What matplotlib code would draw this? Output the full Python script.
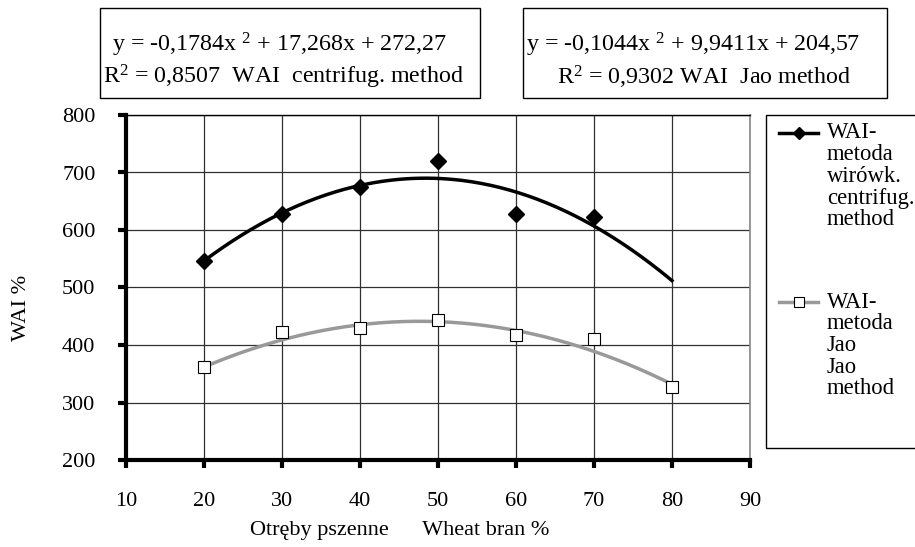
import numpy as np
import matplotlib
matplotlib.use("Agg")
import matplotlib.pyplot as plt
from matplotlib.patches import Rectangle
from matplotlib.lines import Line2D

plt.rcParams['font.family'] = ['Liberation Serif', 'DejaVu Serif']
plt.rcParams['mathtext.fontset'] = 'custom'
plt.rcParams['mathtext.rm'] = 'Liberation Serif'
plt.rcParams['mathtext.it'] = 'Liberation Serif:italic'

# Data
bran = [20, 30, 40, 50, 60, 70, 80]
wai_centrifug = [546, 628, 675, 720, 628, 623, None]
wai_jao = [361, 423, 429, 444, 417, 410, 327]
# Excel polynomial trendline coefficients (a, b, c) as printed on chart
coef_centrifug = [-0.1784, 17.268, 272.27]
coef_jao = [-0.1044, 9.9411, 204.57]
eq1 = ['y = -0,1784x $^{2}$ + 17,268x + 272,27', 'R$^{2}$ = 0,8507  WAI  centrifug. method']
eq2 = ['y = -0,1044x $^{2}$ + 9,9411x + 204,57', 'R$^{2}$ = 0,9302 WAI  Jao method']
legend1 = ['WAI-', 'metoda', 'wirówk.', 'centrifug.', 'method']
legend2 = ['WAI-', 'metoda', 'Jao', 'Jao', 'method']
xticks = [10, 20, 30, 40, 50, 60, 70, 80, 90]
yticks = [200, 300, 400, 500, 600, 700, 800]
xlabel = 'Otręby pszenne      Wheat bran %'
ylabel = 'WAI %'

W, H = 915, 547
FS = 16
fig = plt.figure(figsize=(W / 100, H / 100), dpi=100)
ax = fig.add_axes([126 / W, 1 - 460 / H, (750 - 126) / W, (460 - 115) / H])

ax.set_xlim(10, 90)
ax.set_ylim(200, 800)
ax.set_xticks(xticks)
ax.set_yticks(yticks)
ax.grid(True, color='#303030', linewidth=0.9)
ax.set_axisbelow(True)

xs = np.linspace(20, 80, 200)
for coef, col in [(coef_centrifug, 'black'), (coef_jao, '#999999')]:
    ys = np.polyval(coef, xs)
    ax.plot(xs, ys, color=col, linewidth=2.5, zorder=3)

xc = [x for x, v in zip(bran, wai_centrifug) if v is not None]
yc = [v for v in wai_centrifug if v is not None]
ax.plot(xc, yc, linestyle='none', marker='D', markersize=8.5, color='black', zorder=4)
ax.plot(bran, wai_jao, linestyle='none', marker='s', markersize=9,
        markerfacecolor='white', markeredgecolor='black', markeredgewidth=0.8, zorder=4)

for s in ['left', 'bottom']:
    ax.spines[s].set_linewidth(3)
    ax.spines[s].set_color('black')
ax.spines['top'].set_linewidth(1)
ax.spines['right'].set_linewidth(1.2)
ax.spines['right'].set_color('#888888')
ax.tick_params(axis='both', direction='out', length=6, width=3, labelsize=FS, colors='black')
ax.tick_params(axis='x', pad=17)
ax.tick_params(axis='y', pad=16)


def fx(px):
    return px / W


def fy(py):
    return 1 - py / H


fig.text(fx(400), fy(530), xlabel, fontsize=FS, ha='center', va='center')
fig.text(fx(21), fy(308), ylabel, fontsize=FS, ha='center', va='center', rotation=90)

# Equation boxes
fig.patches.append(Rectangle((fx(100), fy(98)), fx(480) - fx(100), fy(8) - fy(98),
                             transform=fig.transFigure, fill=False, edgecolor='black', linewidth=1))
fig.patches.append(Rectangle((fx(523), fy(98)), fx(887) - fx(523), fy(8) - fy(98),
                             transform=fig.transFigure, fill=False, edgecolor='black', linewidth=1))
EFS = 17.3
fig.text(fx(112), fy(45), eq1[0], fontsize=EFS, va='center', ha='left')
fig.text(fx(103), fy(77), eq1[1], fontsize=EFS, va='center', ha='left')
fig.text(fx(526), fy(45), eq2[0], fontsize=EFS, va='center', ha='left')
fig.text(fx(557), fy(77), eq2[1], fontsize=EFS, va='center', ha='left')

# Legend (manual, text runs off the figure edge like in the original)
fig.patches.append(Rectangle((fx(766), fy(448)), fx(930) - fx(766), fy(115) - fy(448),
                             transform=fig.transFigure, fill=False, edgecolor='black', linewidth=1))
fig.lines.append(Line2D([fx(779), fx(818)], [fy(133), fy(133)], transform=fig.transFigure,
                        color='black', linewidth=2.5))
fig.lines.append(Line2D([fx(798.5)], [fy(133)], transform=fig.transFigure,
                        color='black', marker='D', markersize=6.5, linestyle='none'))
fig.lines.append(Line2D([fx(779), fx(818)], [fy(302), fy(302)], transform=fig.transFigure,
                        color='#999999', linewidth=2.5))
fig.lines.append(Line2D([fx(798.5)], [fy(302)], transform=fig.transFigure,
                        marker='s', markersize=7, markerfacecolor='white', markeredgecolor='black',
                        markeredgewidth=0.8, linestyle='none'))
LFS = 16.3
for i, t in enumerate(legend1):
    fig.text(fx(827), fy(133 + i * 21.7), t, fontsize=LFS, va='center', ha='left')
for i, t in enumerate(legend2):
    fig.text(fx(827), fy(302 + i * 21.7), t, fontsize=LFS, va='center', ha='left')

fig.savefig('out.png', dpi=100)
